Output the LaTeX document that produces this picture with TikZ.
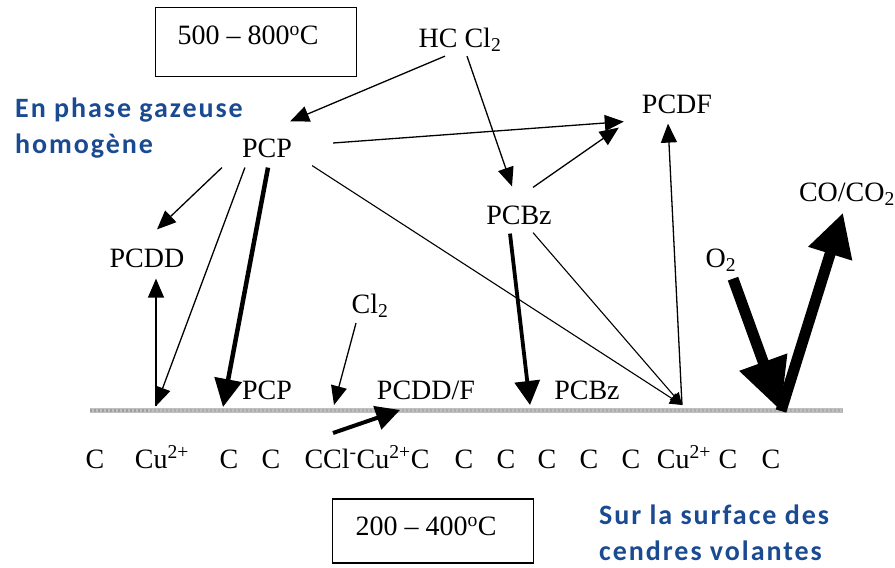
\documentclass[tikz,border=0pt]{standalone}
\usepackage{fontspec}
\setmainfont{Liberation Serif}
\newfontfamily\notefont{Carlito}[LetterSpace=7]
\usetikzlibrary{arrows.meta}
\definecolor{noteblue}{RGB}{26,74,145}

\tikzstyle{chem} = [inner sep=2pt, font=\fontsize{28}{30}\selectfont]
\tikzstyle{tempbox} = [draw, line width=1.5pt, minimum width=201pt, font=\fontsize{28}{30}\selectfont]
\tikzstyle{note} = [align=left, anchor=north west, inner sep=0pt, text=noteblue, font=\notefont\bfseries\fontsize{28}{36}\selectfont]
\tikzstyle{arrow} = [draw, line width=1.3pt, -{Triangle[length=19pt, width=16pt]}]
\tikzstyle{tiny} = [draw, line width=1.1pt, -{Triangle[length=12pt, width=12pt]}]
\tikzstyle{fat} = [draw, line width=4.5pt, -{Triangle[length=28pt, width=27pt]}]
\tikzstyle{bigarrow} = [draw, line width=11pt, -{Triangle[length=52pt, width=48pt]}]
\tikzstyle{surface} = [draw, gray!50, line width=5pt]
\tikzstyle{grain} = [draw, gray!75, line width=3pt, dash pattern=on 2pt off 2pt]

\begin{document}
\begin{tikzpicture}[x=1pt, y=-1pt]
    \useasboundingbox (0,0) rectangle (895,568);

    % boxes and notes
    \node[tempbox, minimum height=69pt] (hot) at (256,42) {\raisebox{13pt}{500 -- 800\textsuperscript{o}C}\hspace{16pt}\mbox{}};
    \node[tempbox, minimum height=64pt] (cold) at (433,531) {\raisebox{9pt}{200 -- 400\textsuperscript{o}C}\hspace{14pt}\mbox{}};
    \node[note] (gasnote) at (15,98) {En phase gazeuse\\homogène};
    \node[note] (ashnote) at (599,505) {Sur la surface des\\cendres volantes};

    % gas phase
    \node[chem] (hccl) at (460,40) {HC Cl\textsubscript{2}};
    \node[chem] (pcdf) at (677,104) {PCDF};
    \node[chem] (pcp) at (267,148) {PCP};
    \node[chem] (pcbz) at (519,215) {PCBz};
    \node[chem] (coco) at (847,194) {CO/CO\textsubscript{2}};
    \node[chem] (pcdd) at (147,258) {PCDD};
    \node[chem] (otwo) at (721,260) {O\textsubscript{2}};
    \node[chem] (cltwo) at (370,306) {Cl\textsubscript{2}};

    % fly ash surface
    \coordinate (sl) at (90,410);
    \coordinate (sm) at (150,410);
    \coordinate (sr) at (843,410);
    \draw[surface] (sl) -- (sr);
    \draw[grain] (sl) -- (sm);
    \draw[grain, gray!65, dash pattern=on 1.5pt off 2.5pt] (sm) -- (sr);
    \coordinate (s1) at (156,406);
    \coordinate (s2) at (223,407);
    \coordinate (s3) at (334,405);
    \coordinate (s4) at (530,405);
    \coordinate (s5) at (682,405);
    \coordinate (s6) at (781,411);
    \coordinate (r1) at (333,433);
    \coordinate (r2) at (400,410);

    \node[chem, anchor=base] (spcp) at (267,399) {PCP};
    \node[chem, anchor=base] (spcdf) at (426,399) {PCDD/F};
    \node[chem, anchor=base] (spcbz) at (587,399) {PCBz};

    \foreach \x [count=\i] in {95,229,271,464,506,547,589,631,728,771}
        \node[chem, anchor=base] (c\i) at (\x,468) {C};
    \node[chem, anchor=base] (cua) at (162,468) {Cu\textsuperscript{2+}};
    \node[chem, anchor=base] (cub) at (684,468) {Cu\textsuperscript{2+}};
    \node[chem, anchor=base] (ccl) at (367,468) {CCl\textsuperscript{-}Cu\textsuperscript{2+}C};

    % lines
    \draw[arrow] ([shift={(-15,2)}]hccl.south) -- ([shift={(-4,-15)}]pcp.north east);
    \draw[arrow] ([shift={(7,2)}]hccl.south) -- ([shift={(-7,-17)}]pcbz.north);
    \draw[arrow] ([shift={(39,-5)}]pcp.east) -- ([shift={(-16,6)}]pcdf.south west);
    \draw[arrow] ([shift={(14,-16)}]pcbz.north) -- ([shift={(-21,12)}]pcdf.south west);
    \draw[arrow] ([shift={(-18,8)}]pcp.south west) -- ([shift={(10,-17)}]pcdd.north);
    \draw[arrow] ([shift={(5,8)}]pcp.south west) -- (s1);
    \draw[arrow] (s1) -- ([shift={(9,9)}]pcdd.south);
    \draw[tiny] ([shift={(18,6)}]pcp.south east) -- (s5);
    \draw[tiny] ([shift={(14,6)}]pcbz.south) -- (s5);
    \draw[arrow] (s5) -- ([shift={(-9,8)}]pcdf.south);
    \draw[arrow] ([shift={(-14,3)}]cltwo.south) -- (s3);
    \draw[fat] ([shift={(1,8)}]pcp.south) -- (s2);
    \draw[fat, line width=3.8pt, -{Triangle[length=24pt, width=25pt]}] ([shift={(-9,7)}]pcbz.south) -- (s4);
    \draw[fat, line width=4pt, -{Triangle[length=24pt, width=24pt]}] (r1) -- (r2);
    \draw[bigarrow, -{Triangle[length=43pt, width=43pt]}] (s6) -- ([shift={(-4,5)}]coco.south);
    \draw[bigarrow] ([shift={(12,5)}]otwo.south) -- (s6);
\end{tikzpicture}
\end{document}
